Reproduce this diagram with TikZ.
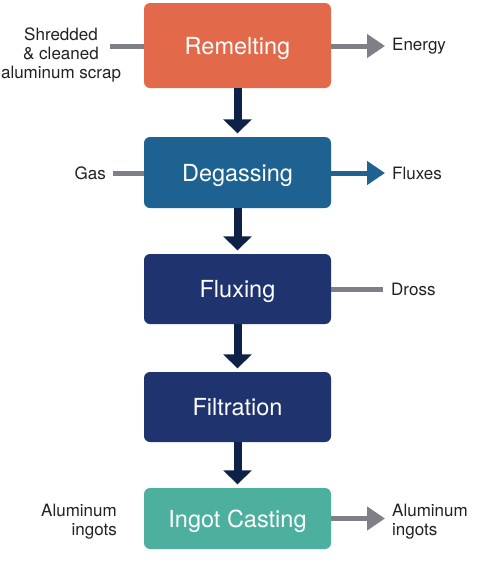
\documentclass[tikz,border=0pt]{standalone}
\usepackage{fontspec}
\setmainfont{TeX Gyre Heros}
\usetikzlibrary{arrows.meta}
\definecolor{cRemelt}{HTML}{E26A4B}
\definecolor{cDegas}{HTML}{1D6290}
\definecolor{cNavy}{HTML}{1F336F}
\definecolor{cTeal}{HTML}{4DB09F}
\definecolor{cArrow}{HTML}{0E2248}
\definecolor{cGray}{HTML}{7F7F88}
\definecolor{cText}{HTML}{222222}
\tikzset{
  stepbox/.style={draw=none, rounded corners=6pt, minimum width=187pt, text=white,
    font=\fontsize{23.5}{27}\selectfont, inner sep=0pt, text height=17pt, text depth=0pt},
  sidelabel/.style={text=cText, font=\fontsize{17}{19}\selectfont, inner sep=0pt},
  flowarrow/.style={draw=cArrow, line width=8pt, shorten >=3.5pt,
    -{Triangle[width=28pt,length=14pt]}},
  grayline/.style={draw=cGray, line width=5pt},
  grayarrow/.style={draw=cGray, line width=5pt, -{Triangle[width=23pt,length=18pt]}},
  bluearrow/.style={draw=cDegas, line width=5pt, -{Triangle[width=23pt,length=18pt]}},
}
\begin{document}
\begin{tikzpicture}[x=1pt,y=-1pt]
\useasboundingbox[fill=white] (0,0) rectangle (478,571);
% process boxes
\node[stepbox, fill=cRemelt, minimum height=85pt] (remelt) at (237.5,45.5) {Remelting};
\node[stepbox, fill=cDegas, minimum height=71pt] (degas) at (237.5,172.5) {Degassing};
\node[stepbox, fill=cNavy, minimum height=70pt] (flux) at (237.5,289) {Fluxing};
\node[stepbox, fill=cNavy, minimum height=70pt] (filt) at (237.5,407) {Filtration};
\node[stepbox, fill=cTeal, minimum height=61pt] (ingot) at (237.5,518.5) {Ingot Casting};
% main flow
\draw[flowarrow] (remelt.south) -- (degas.north);
\draw[flowarrow] (degas.south) -- (flux.north);
\draw[flowarrow] (flux.south) -- (filt.north);
\draw[flowarrow] (filt.south) -- (ingot.north);
% side labels
\node[sidelabel, align=center] (scrap) at (61,55) {Shredded\\\& cleaned\\aluminum scrap};
\node[sidelabel, anchor=west] (energy) at (392,46) {Energy};
\node[sidelabel, anchor=east] (gas) at (106,173) {Gas};
\node[sidelabel, anchor=west] (fluxes) at (392,173) {Fluxes};
\node[sidelabel, anchor=west] (dross) at (391,289) {Dross};
\node[sidelabel, align=right, anchor=east] (alin) at (117,522) {Aluminum\\ingots};
\node[sidelabel, align=left, anchor=west] (alout) at (392,522) {Aluminum\\ingots};
\coordinate (scrapend) at (110,46);
% side connectors
\draw[grayline] (scrapend) -- (scrapend -| remelt.west);
\draw[grayarrow] (remelt.east |- energy.west) -- ([xshift=-7pt]energy.west);
\draw[grayline] ([xshift=7pt]gas.east) -- (gas.east -| degas.west);
\draw[bluearrow] (degas.east |- fluxes.west) -- ([xshift=-7pt]fluxes.west);
\draw[grayline] (flux.east |- dross.west) -- ([xshift=-8pt]dross.west);
\draw[grayarrow] (ingot.east) -- ([xshift=-7pt]ingot.east -| alout.west);
\end{tikzpicture}
\end{document}
